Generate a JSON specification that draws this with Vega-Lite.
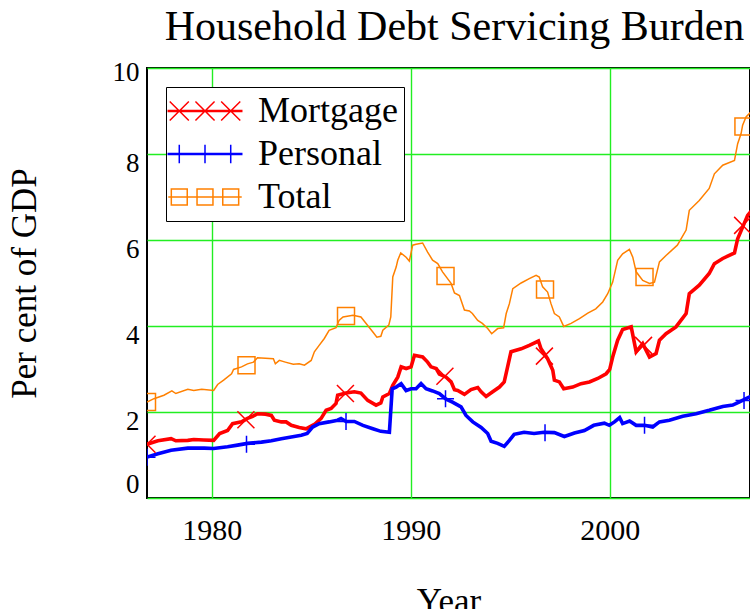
{
"$schema": "https://vega.github.io/schema/vega-lite/v6.json",
"width": 603, "height": 430,
"autosize": {"type": "none"},
"padding": {"left": 147, "top": 68, "right": 0, "bottom": 111},
"background": "white",
"title": {"text": "Household Debt Servicing Burden", "font": "Liberation Serif", "fontSize": 42, "fontWeight": "normal", "color": "black", "baseline": "top", "offset": 9, "dx": 6},
"config": {
 "view": {"stroke": "black", "strokeWidth": 2},
 "font": "Liberation Serif",
 "axis": {"gridColor": "#22ee22", "gridWidth": 1.4, "gridOpacity": 1, "domain": false, "ticks": false, "labelColor": "black", "titleColor": "black", "labelFont": "Liberation Serif", "titleFont": "Liberation Serif", "titleFontWeight": "normal"},
 "legend": {"orient": "top-left", "offset": 19, "labelFont": "Liberation Serif", "labelFontSize": 36, "labelColor": "black", "labelLimit": 500,
            "padding": 6, "strokeColor": "black", "fillColor": "white", "symbolSize": 600, "symbolStrokeWidth": 1.5, "symbolOpacity": 1, "symbolOffset": 15, "labelOffset": 35, "rowPadding": 7}
},
"resolve": {"scale": {"shape": "independent", "color": "independent"}},
"datasets": {
"series": [
{"series":"Mortgage","year":1976.75,"value":1.25},{"series":"Mortgage","year":1977.3,"value":1.33},{"series":"Mortgage","year":1977.96,"value":1.38},{"series":"Mortgage","year":1978.2,"value":1.33},{"series":"Mortgage","year":1978.8,"value":1.34},{"series":"Mortgage","year":1979.1,"value":1.36},{"series":"Mortgage","year":1979.6,"value":1.35},{"series":"Mortgage","year":1980.1,"value":1.34},{"series":"Mortgage","year":1980.4,"value":1.5},{"series":"Mortgage","year":1980.8,"value":1.57},{"series":"Mortgage","year":1981.05,"value":1.73},{"series":"Mortgage","year":1981.5,"value":1.77},{"series":"Mortgage","year":1981.8,"value":1.85},{"series":"Mortgage","year":1982.06,"value":1.9},{"series":"Mortgage","year":1982.3,"value":1.96},{"series":"Mortgage","year":1982.7,"value":1.95},{"series":"Mortgage","year":1983.0,"value":1.92},{"series":"Mortgage","year":1983.15,"value":1.81},{"series":"Mortgage","year":1983.5,"value":1.77},{"series":"Mortgage","year":1983.74,"value":1.77},{"series":"Mortgage","year":1984.0,"value":1.69},{"series":"Mortgage","year":1984.4,"value":1.64},{"series":"Mortgage","year":1984.74,"value":1.61},{"series":"Mortgage","year":1985.16,"value":1.71},{"series":"Mortgage","year":1985.5,"value":1.85},{"series":"Mortgage","year":1985.75,"value":2.04},{"series":"Mortgage","year":1986.0,"value":2.08},{"series":"Mortgage","year":1986.25,"value":2.2},{"series":"Mortgage","year":1986.33,"value":2.39},{"series":"Mortgage","year":1986.75,"value":2.44},{"series":"Mortgage","year":1987.17,"value":2.47},{"series":"Mortgage","year":1987.5,"value":2.44},{"series":"Mortgage","year":1987.84,"value":2.27},{"series":"Mortgage","year":1988.26,"value":2.16},{"series":"Mortgage","year":1988.5,"value":2.21},{"series":"Mortgage","year":1988.6,"value":2.35},{"series":"Mortgage","year":1988.93,"value":2.43},{"series":"Mortgage","year":1989.1,"value":2.62},{"series":"Mortgage","year":1989.35,"value":2.81},{"series":"Mortgage","year":1989.52,"value":3.05},{"series":"Mortgage","year":1989.77,"value":3.01},{"series":"Mortgage","year":1990.02,"value":3.05},{"series":"Mortgage","year":1990.19,"value":3.32},{"series":"Mortgage","year":1990.6,"value":3.28},{"series":"Mortgage","year":1990.85,"value":3.16},{"series":"Mortgage","year":1991.02,"value":3.05},{"series":"Mortgage","year":1991.28,"value":3.01},{"series":"Mortgage","year":1991.44,"value":2.88},{"series":"Mortgage","year":1991.78,"value":2.81},{"series":"Mortgage","year":1992.03,"value":2.7},{"series":"Mortgage","year":1992.2,"value":2.52},{"series":"Mortgage","year":1992.36,"value":2.5},{"series":"Mortgage","year":1992.7,"value":2.41},{"series":"Mortgage","year":1993.03,"value":2.52},{"series":"Mortgage","year":1993.37,"value":2.57},{"series":"Mortgage","year":1993.54,"value":2.47},{"series":"Mortgage","year":1993.79,"value":2.36},{"series":"Mortgage","year":1994.12,"value":2.47},{"series":"Mortgage","year":1994.46,"value":2.58},{"series":"Mortgage","year":1994.7,"value":2.7},{"series":"Mortgage","year":1994.87,"value":3.05},{"series":"Mortgage","year":1995.04,"value":3.4},{"series":"Mortgage","year":1995.55,"value":3.47},{"series":"Mortgage","year":1995.96,"value":3.55},{"series":"Mortgage","year":1996.42,"value":3.65},{"series":"Mortgage","year":1996.55,"value":3.47},{"series":"Mortgage","year":1996.88,"value":3.24},{"series":"Mortgage","year":1997.14,"value":2.97},{"series":"Mortgage","year":1997.22,"value":2.74},{"series":"Mortgage","year":1997.47,"value":2.7},{"series":"Mortgage","year":1997.69,"value":2.54},{"series":"Mortgage","year":1998.14,"value":2.58},{"series":"Mortgage","year":1998.56,"value":2.66},{"series":"Mortgage","year":1998.98,"value":2.7},{"series":"Mortgage","year":1999.4,"value":2.78},{"series":"Mortgage","year":1999.82,"value":2.89},{"series":"Mortgage","year":2000.0,"value":2.99},{"series":"Mortgage","year":2000.15,"value":3.28},{"series":"Mortgage","year":2000.4,"value":3.67},{"series":"Mortgage","year":2000.65,"value":3.92},{"series":"Mortgage","year":2001.08,"value":3.98},{"series":"Mortgage","year":2001.33,"value":3.4},{"series":"Mortgage","year":2001.66,"value":3.59},{"series":"Mortgage","year":2002.0,"value":3.28},{"series":"Mortgage","year":2002.33,"value":3.36},{"series":"Mortgage","year":2002.5,"value":3.67},{"series":"Mortgage","year":2002.83,"value":3.82},{"series":"Mortgage","year":2003.33,"value":3.98},{"series":"Mortgage","year":2003.84,"value":4.29},{"series":"Mortgage","year":2004.0,"value":4.75},{"series":"Mortgage","year":2004.5,"value":4.95},{"series":"Mortgage","year":2005.0,"value":5.22},{"series":"Mortgage","year":2005.26,"value":5.45},{"series":"Mortgage","year":2005.68,"value":5.57},{"series":"Mortgage","year":2006.27,"value":5.7},{"series":"Mortgage","year":2006.43,"value":6.03},{"series":"Mortgage","year":2006.68,"value":6.3},{"series":"Mortgage","year":2006.93,"value":6.57},{"series":"Mortgage","year":2007.25,"value":6.75},
{"series":"Personal","year":1976.75,"value":0.95},{"series":"Personal","year":1977.3,"value":1.03},{"series":"Personal","year":1977.96,"value":1.11},{"series":"Personal","year":1978.8,"value":1.16},{"series":"Personal","year":1979.63,"value":1.16},{"series":"Personal","year":1980.1,"value":1.15},{"series":"Personal","year":1980.8,"value":1.19},{"series":"Personal","year":1981.3,"value":1.23},{"series":"Personal","year":1981.8,"value":1.27},{"series":"Personal","year":1982.5,"value":1.3},{"series":"Personal","year":1983.0,"value":1.33},{"series":"Personal","year":1983.5,"value":1.38},{"series":"Personal","year":1984.0,"value":1.42},{"series":"Personal","year":1984.5,"value":1.46},{"series":"Personal","year":1984.8,"value":1.5},{"series":"Personal","year":1985.07,"value":1.65},{"series":"Personal","year":1985.4,"value":1.73},{"series":"Personal","year":1985.9,"value":1.77},{"series":"Personal","year":1986.33,"value":1.81},{"series":"Personal","year":1986.5,"value":1.85},{"series":"Personal","year":1986.75,"value":1.78},{"series":"Personal","year":1987.17,"value":1.78},{"series":"Personal","year":1987.6,"value":1.69},{"series":"Personal","year":1988.1,"value":1.61},{"series":"Personal","year":1988.5,"value":1.55},{"series":"Personal","year":1988.93,"value":1.53},{"series":"Personal","year":1989.07,"value":2.54},{"series":"Personal","year":1989.27,"value":2.58},{"series":"Personal","year":1989.52,"value":2.66},{"series":"Personal","year":1989.77,"value":2.5},{"series":"Personal","year":1990.02,"value":2.54},{"series":"Personal","year":1990.27,"value":2.54},{"series":"Personal","year":1990.52,"value":2.66},{"series":"Personal","year":1990.77,"value":2.54},{"series":"Personal","year":1991.1,"value":2.49},{"series":"Personal","year":1991.44,"value":2.43},{"series":"Personal","year":1991.78,"value":2.3},{"series":"Personal","year":1992.1,"value":2.23},{"series":"Personal","year":1992.53,"value":2.12},{"series":"Personal","year":1992.78,"value":1.92},{"series":"Personal","year":1993.12,"value":1.77},{"series":"Personal","year":1993.54,"value":1.64},{"series":"Personal","year":1993.87,"value":1.5},{"series":"Personal","year":1994.04,"value":1.32},{"series":"Personal","year":1994.37,"value":1.27},{"series":"Personal","year":1994.7,"value":1.2},{"series":"Personal","year":1994.96,"value":1.34},{"series":"Personal","year":1995.2,"value":1.48},{"series":"Personal","year":1995.7,"value":1.53},{"series":"Personal","year":1996.2,"value":1.5},{"series":"Personal","year":1996.7,"value":1.53},{"series":"Personal","year":1997.22,"value":1.52},{"series":"Personal","year":1997.72,"value":1.43},{"series":"Personal","year":1998.23,"value":1.51},{"series":"Personal","year":1998.73,"value":1.57},{"series":"Personal","year":1999.2,"value":1.69},{"series":"Personal","year":1999.73,"value":1.74},{"series":"Personal","year":1999.98,"value":1.69},{"series":"Personal","year":2000.24,"value":1.77},{"series":"Personal","year":2000.5,"value":1.87},{"series":"Personal","year":2000.65,"value":1.73},{"series":"Personal","year":2001.0,"value":1.79},{"series":"Personal","year":2001.33,"value":1.69},{"series":"Personal","year":2001.75,"value":1.69},{"series":"Personal","year":2002.16,"value":1.65},{"series":"Personal","year":2002.5,"value":1.77},{"series":"Personal","year":2003.0,"value":1.81},{"series":"Personal","year":2003.67,"value":1.9},{"series":"Personal","year":2004.34,"value":1.96},{"series":"Personal","year":2005.0,"value":2.04},{"series":"Personal","year":2005.68,"value":2.13},{"series":"Personal","year":2006.18,"value":2.16},{"series":"Personal","year":2006.5,"value":2.23},{"series":"Personal","year":2006.85,"value":2.31},{"series":"Personal","year":2007.25,"value":2.4},
{"series":"Total","year":1976.75,"value":2.23},{"series":"Total","year":1977.1,"value":2.31},{"series":"Total","year":1977.6,"value":2.39},{"series":"Total","year":1978.0,"value":2.49},{"series":"Total","year":1978.2,"value":2.43},{"series":"Total","year":1978.8,"value":2.53},{"series":"Total","year":1979.1,"value":2.5},{"series":"Total","year":1979.5,"value":2.53},{"series":"Total","year":1980.1,"value":2.5},{"series":"Total","year":1980.3,"value":2.64},{"series":"Total","year":1980.6,"value":2.74},{"series":"Total","year":1981.0,"value":2.89},{"series":"Total","year":1981.1,"value":2.99},{"series":"Total","year":1981.5,"value":3.05},{"series":"Total","year":1981.8,"value":3.12},{"series":"Total","year":1982.1,"value":3.16},{"series":"Total","year":1982.3,"value":3.26},{"series":"Total","year":1983.1,"value":3.24},{"series":"Total","year":1983.2,"value":3.12},{"series":"Total","year":1983.4,"value":3.2},{"series":"Total","year":1983.7,"value":3.16},{"series":"Total","year":1984.1,"value":3.11},{"series":"Total","year":1984.4,"value":3.12},{"series":"Total","year":1984.66,"value":3.09},{"series":"Total","year":1985.0,"value":3.2},{"series":"Total","year":1985.16,"value":3.4},{"series":"Total","year":1985.4,"value":3.55},{"series":"Total","year":1985.66,"value":3.71},{"series":"Total","year":1985.9,"value":3.9},{"series":"Total","year":1986.25,"value":3.96},{"series":"Total","year":1986.4,"value":4.13},{"series":"Total","year":1986.6,"value":4.21},{"series":"Total","year":1987.1,"value":4.25},{"series":"Total","year":1987.5,"value":4.21},{"series":"Total","year":1987.76,"value":4.06},{"series":"Total","year":1988.1,"value":3.86},{"series":"Total","year":1988.3,"value":3.74},{"series":"Total","year":1988.5,"value":3.76},{"series":"Total","year":1988.6,"value":3.9},{"series":"Total","year":1988.9,"value":4.02},{"series":"Total","year":1989.0,"value":4.21},{"series":"Total","year":1989.1,"value":5.14},{"series":"Total","year":1989.27,"value":5.37},{"series":"Total","year":1989.35,"value":5.53},{"series":"Total","year":1989.5,"value":5.7},{"series":"Total","year":1989.77,"value":5.6},{"series":"Total","year":1989.93,"value":5.51},{"series":"Total","year":1990.1,"value":5.88},{"series":"Total","year":1990.27,"value":5.9},{"series":"Total","year":1990.6,"value":5.93},{"series":"Total","year":1990.85,"value":5.72},{"series":"Total","year":1991.1,"value":5.53},{"series":"Total","year":1991.36,"value":5.45},{"series":"Total","year":1991.6,"value":5.26},{"series":"Total","year":1992.03,"value":4.99},{"series":"Total","year":1992.2,"value":4.77},{"series":"Total","year":1992.45,"value":4.71},{"series":"Total","year":1992.7,"value":4.37},{"series":"Total","year":1992.95,"value":4.35},{"series":"Total","year":1993.1,"value":4.29},{"series":"Total","year":1993.37,"value":4.13},{"series":"Total","year":1993.6,"value":4.06},{"series":"Total","year":1993.87,"value":3.94},{"series":"Total","year":1994.07,"value":3.82},{"series":"Total","year":1994.37,"value":3.94},{"series":"Total","year":1994.67,"value":3.96},{"series":"Total","year":1994.8,"value":4.29},{"series":"Total","year":1994.96,"value":4.52},{"series":"Total","year":1995.13,"value":4.87},{"series":"Total","year":1995.55,"value":5.0},{"series":"Total","year":1995.96,"value":5.1},{"series":"Total","year":1996.3,"value":5.18},{"series":"Total","year":1996.46,"value":5.14},{"series":"Total","year":1996.63,"value":4.91},{"series":"Total","year":1996.88,"value":4.79},{"series":"Total","year":1997.05,"value":4.52},{"series":"Total","year":1997.22,"value":4.29},{"series":"Total","year":1997.47,"value":4.21},{"series":"Total","year":1997.69,"value":3.99},{"series":"Total","year":1998.06,"value":4.06},{"series":"Total","year":1998.48,"value":4.17},{"series":"Total","year":1998.9,"value":4.3},{"series":"Total","year":1999.3,"value":4.4},{"series":"Total","year":1999.65,"value":4.56},{"series":"Total","year":1999.9,"value":4.75},{"series":"Total","year":2000.15,"value":5.02},{"series":"Total","year":2000.4,"value":5.53},{"series":"Total","year":2000.65,"value":5.68},{"series":"Total","year":2000.99,"value":5.78},{"series":"Total","year":2001.16,"value":5.6},{"series":"Total","year":2001.33,"value":5.26},{"series":"Total","year":2001.66,"value":5.06},{"series":"Total","year":2002.0,"value":4.99},{"series":"Total","year":2002.25,"value":5.02},{"series":"Total","year":2002.5,"value":5.49},{"series":"Total","year":2002.83,"value":5.64},{"series":"Total","year":2003.4,"value":5.88},{"series":"Total","year":2003.84,"value":6.23},{"series":"Total","year":2004.0,"value":6.69},{"series":"Total","year":2004.5,"value":6.92},{"series":"Total","year":2005.0,"value":7.2},{"series":"Total","year":2005.26,"value":7.54},{"series":"Total","year":2005.68,"value":7.74},{"series":"Total","year":2006.27,"value":7.85},{"series":"Total","year":2006.43,"value":8.24},{"series":"Total","year":2006.6,"value":8.47},{"series":"Total","year":2006.68,"value":8.67},{"series":"Total","year":2006.85,"value":8.86},{"series":"Total","year":2007.25,"value":9.05}
],
"markers": [
{"kind":"Mortgage","year":1976.75,"value":1.25},{"kind":"Mortgage","year":1981.72,"value":1.82},{"kind":"Mortgage","year":1986.72,"value":2.43},{"kind":"Mortgage","year":1991.72,"value":2.83},{"kind":"Mortgage","year":1996.72,"value":3.3},{"kind":"Mortgage","year":2001.7,"value":3.55},{"kind":"Mortgage","year":2006.68,"value":6.34},
{"kind":"Personal","year":1976.75,"value":0.95},{"kind":"Personal","year":1981.75,"value":1.25},{"kind":"Personal","year":1986.75,"value":1.78},{"kind":"Personal","year":1991.75,"value":2.31},{"kind":"Personal","year":1996.75,"value":1.52},{"kind":"Personal","year":2001.75,"value":1.69},{"kind":"Personal","year":2006.75,"value":2.27},
{"kind":"Total","year":1976.75,"value":2.23},{"kind":"Total","year":1981.75,"value":3.09},{"kind":"Total","year":1986.75,"value":4.23},{"kind":"Total","year":1991.75,"value":5.16},{"kind":"Total","year":1996.75,"value":4.85},{"kind":"Total","year":2001.75,"value":5.14},{"kind":"Total","year":2006.72,"value":8.64}
]
},
"layer": [
{
 "data": {"name": "series"},
 "mark": {"type": "line", "clip": true},
 "encoding": {
  "x": {"field": "year", "type": "quantitative", "scale": {"domain": [1976.75, 2007.05], "nice": false, "zero": false},
        "axis": {"values": [1980, 1990, 2000], "format": "d", "grid": true, "labelFontSize": 30, "labelPadding": 17, "title": "Year", "titleFontSize": 35, "titlePadding": 39}},
  "y": {"field": "value", "type": "quantitative", "scale": {"domain": [0, 10], "nice": false},
        "axis": {"values": [0, 2, 4, 6, 8, 10], "grid": true, "labelFontSize": 27, "labelPadding": 8, "title": "Per cent of GDP", "titleFontSize": 35, "titlePadding": 70,
                 "labelBaseline": {"condition": {"test": "datum.value === 0", "value": "bottom"}, "value": "middle"},
                 "labelOffset": {"condition": [{"test": "datum.value === 0", "value": 0}, {"test": "datum.value === 10", "value": 4}], "value": 9}}},
  "color": {"field": "series", "type": "nominal",
            "scale": {"domain": ["Mortgage", "Personal", "Total"], "range": ["#ff0000", "#0000ff", "#ff8000"]}, "legend": null},
  "strokeWidth": {"condition": {"test": "datum.series === 'Total'", "value": 1.5}, "value": 3.6}
 }
},
{
 "data": {"name": "markers"},
 "mark": {"type": "point", "clip": true, "filled": false, "strokeWidth": 1.5, "size": 289, "opacity": 1},
 "encoding": {
  "x": {"field": "year", "type": "quantitative"},
  "y": {"field": "value", "type": "quantitative"},
  "color": {"field": "kind", "type": "nominal", "scale": {"domain": ["Mortgage", "Personal", "Total"], "range": ["#ff0000", "#0000ff", "#ff8000"]}, "legend": null},
  "shape": {"field": "kind", "type": "nominal", "scale": {"domain": ["Mortgage", "Personal", "Total"], "range": ["M-1,-1L1,1M-1,1L1,-1", "M-1,0H1M0,-1V1", "square"]}, "legend": null}
 }
},
{
 "data": {"name": "series"},
 "transform": [{"filter": "datum.value < 0"}],
 "mark": {"type": "point", "filled": false, "strokeWidth": 1.5, "size": 600, "opacity": 1},
 "encoding": {
  "x": {"field": "year", "type": "quantitative"},
  "y": {"field": "value", "type": "quantitative"},
  "color": {"field": "series", "type": "nominal", "scale": {"domain": ["Mortgage", "Personal", "Total"], "range": ["#ff0000", "#0000ff", "#ff8000"]}, "legend": {"title": null}},
  "shape": {"field": "series", "type": "nominal", "legend": {"title": null},
            "scale": {"domain": ["Mortgage", "Personal", "Total"], "range": [
              "M-3,-0.05H3V0.05H-3Z M-2.88,-0.78L-1.32,0.78M-2.88,0.78L-1.32,-0.78M-0.78,-0.78L0.78,0.78M-0.78,0.78L0.78,-0.78M1.32,-0.78L2.88,0.78M1.32,0.78L2.88,-0.78",
              "M-3,-0.05H3V0.05H-3Z M-2.1,-0.75V0.75M0,-0.75V0.75M2.1,-0.75V0.75",
              "M-3,0H-2.75M-1.45,0H-0.65M0.65,0H1.45M2.75,0H3M-2.75,-0.65H-1.45V0.65H-2.75ZM-0.65,-0.65H0.65V0.65H-0.65ZM1.45,-0.65H2.75V0.65H1.45ZM-2.75,0H-1.45M-0.65,0H0.65M1.45,0H2.75"]}}
 }
}
]
}
